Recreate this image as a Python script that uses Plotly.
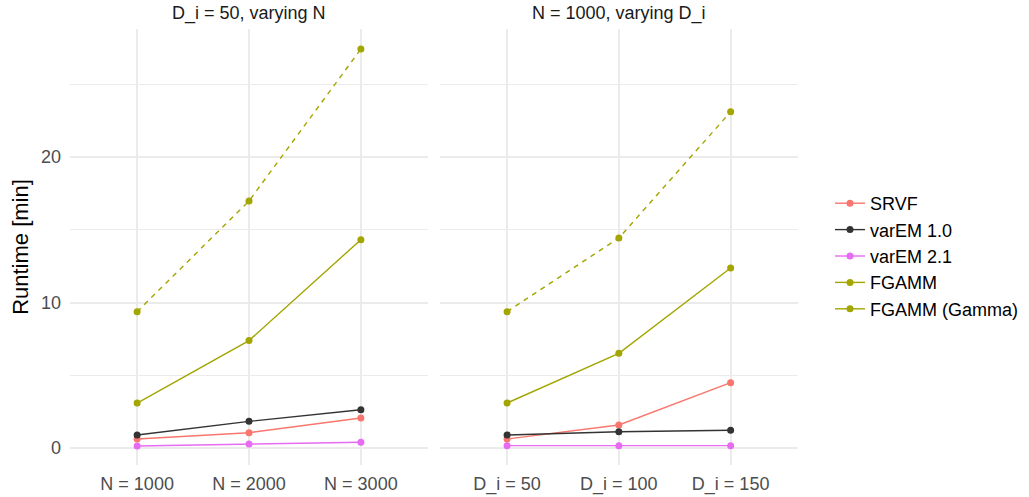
import plotly.graph_objects as go

# Data
n_labels = ["N = 1000", "N = 2000", "N = 3000"]
d_labels = ["D_i = 50", "D_i = 100", "D_i = 150"]
methods = ["SRVF", "varEM 1.0", "varEM 2.1", "FGAMM", "FGAMM (Gamma)"]
colors = {"SRVF": "#F8766D", "varEM 1.0": "#333333", "varEM 2.1": "#E76BF3",
          "FGAMM": "#A3A500", "FGAMM (Gamma)": "#A3A500"}
dashes = {"SRVF": "solid", "varEM 1.0": "solid", "varEM 2.1": "solid",
          "FGAMM": "solid", "FGAMM (Gamma)": "5px,5px"}

srvf_n = [0.62, 1.05, 2.06]
varem10_n = [0.89, 1.83, 2.63]
varem21_n = [0.14, 0.27, 0.39]
fgamm_n = [3.09, 7.38, 14.32]
fgamm_gamma_n = [9.37, 16.98, 27.42]

srvf_d = [0.62, 1.58, 4.49]
varem10_d = [0.89, 1.12, 1.22]
varem21_d = [0.16, 0.16, 0.16]
fgamm_d = [3.09, 6.51, 12.37]
fgamm_gamma_d = [9.37, 14.43, 23.11]

left = dict(zip(methods, [srvf_n, varem10_n, varem21_n, fgamm_n, fgamm_gamma_n]))
right = dict(zip(methods, [srvf_d, varem10_d, varem21_d, fgamm_d, fgamm_gamma_d]))

FONT = "Liberation Sans, Arial, sans-serif"

fig = go.Figure()
for m in methods:
    for xs, ys, xa in [(n_labels, left[m], "x"), (d_labels, right[m], "x2")]:
        fig.add_trace(go.Scatter(
            x=xs, y=ys, xaxis=xa, yaxis="y", mode="lines+markers",
            line=dict(color=colors[m], width=1.4, dash=dashes[m]),
            marker=dict(color=colors[m], size=7),
            showlegend=False, hoverinfo="skip", name=m))
# legend entries (solid glyphs like ggplot)
for m in methods:
    fig.add_trace(go.Scatter(
        x=[None], y=[None], xaxis="x", yaxis="y", mode="lines+markers",
        line=dict(color=colors[m], width=1.4),
        marker=dict(color=colors[m], size=7), name=m, showlegend=True))

W, H = 1029, 497
L, R, T, B = 70, 0, 29, 32
pw = W - L - R
ph = H - T - B
d1 = [0, (428 - L) / pw]
d2 = [(440 - L) / pw, (797.7 - L) / pw]

grid = "#EBEBEB"
tickfont = dict(family=FONT, size=18, color="#4D4D4D")
xcommon = dict(type="category", range=[-0.6, 2.6], showgrid=True, gridcolor=grid,
               gridwidth=1.6, zeroline=False, showline=False, ticks="",
               tickfont=tickfont, ticklabelstandoff=6, fixedrange=True)

fig.update_layout(
    width=W, height=H, margin=dict(l=L, r=R, t=T, b=B),
    paper_bgcolor="white", plot_bgcolor="white",
    font=dict(family=FONT, color="black"),
    xaxis=dict(domain=d1, anchor="y", categoryorder="array", categoryarray=n_labels, **xcommon),
    xaxis2=dict(domain=d2, anchor="y", categoryorder="array", categoryarray=d_labels, **xcommon),
    yaxis=dict(range=[-1.17, 28.8], tickvals=[0, 10, 20], showgrid=True, gridcolor=grid,
               gridwidth=1.6, zeroline=False, showline=False, ticks="",
               tickfont=tickfont, ticklabelstandoff=8,
               minor=dict(tickvals=[5, 15, 25], showgrid=True, gridcolor=grid, gridwidth=0.8),
               title=dict(text="Runtime [min]", font=dict(size=22, color="black"), standoff=6)),
    legend=dict(x=(830 - L) / pw, xanchor="left", y=(465 - 256) / ph, yanchor="middle",
                font=dict(size=18, color="black"), tracegroupgap=0, itemwidth=30,
                bgcolor="rgba(0,0,0,0)"),
    showlegend=True,
)

for txt, dom in [("D_i = 50, varying N", d1), ("N = 1000, varying D_i", d2)]:
    fig.add_annotation(text=txt, x=(dom[0] + dom[1]) / 2, xref="paper", xanchor="center",
                       y=1, yref="paper", yanchor="bottom", yshift=3, showarrow=False,
                       font=dict(size=18, color="#1A1A1A", family=FONT))

fig.write_html("out.html")
